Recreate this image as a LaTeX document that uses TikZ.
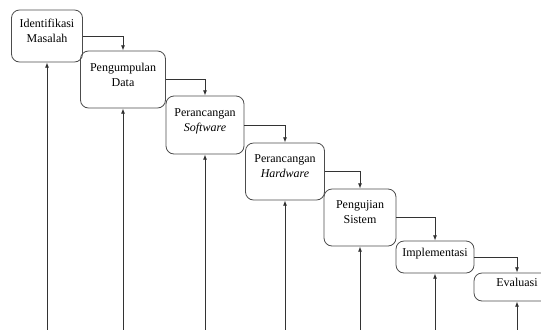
\documentclass[tikz,border=0pt]{standalone}
\usepackage{fontspec}
\setmainfont{Liberation Serif}
\usetikzlibrary{shapes,arrows.meta}

\tikzset{
  stage/.style 2 args={draw=black!70, line width=0.6pt, rounded corners=6pt,
    align=center, inner sep=2pt, text depth=7.5pt, font=\fontsize{9}{11.25}\selectfont,
    minimum width=#1*0.75pt, minimum height=#2*0.75pt},
  flow/.style={line width=0.6pt, draw=black!80, -{Latex[length=4pt,width=3pt]}}
}

\begin{document}
\begin{tikzpicture}[x=0.75pt,y=-0.75pt]
          \useasboundingbox (0,0) rectangle (541,329);
          \clip (0,0) rectangle (541,329);
          \coordinate (base) at (0,331);
          \node[stage={71}{52}] (idm) at (47,36) {Identifikasi\\Masalah};
          \node[stage={85}{57}] (pgd) at (123,79.5) {Pengumpulan\\Data};
          \node[stage={78}{58}] (psw) at (205,125) {Perancangan\\\textit{Software}};
          \node[stage={79}{57}] (phw) at (285,171.5) {Perancangan\\\textit{Hardware}};
          \node[stage={72}{57}] (pgs) at (360,217.5) {Pengujian\\Sistem};
          \node[stage={78}{32}] (imp) at (435,257) {Implementasi};
          \node[stage={86}{28}] (evl) at (517,287) {Evaluasi};
          \foreach \a/\b in {idm/pgd,pgd/psw,psw/phw,phw/pgs,pgs/imp,imp/evl}
            \draw[flow] (\a.east) -| (\b.north);
          \foreach \n in {idm,pgd,psw,phw,pgs,imp,evl}
            \draw[flow] (\n.south |- base) -- (\n.south);
        \end{tikzpicture}
\end{document}
